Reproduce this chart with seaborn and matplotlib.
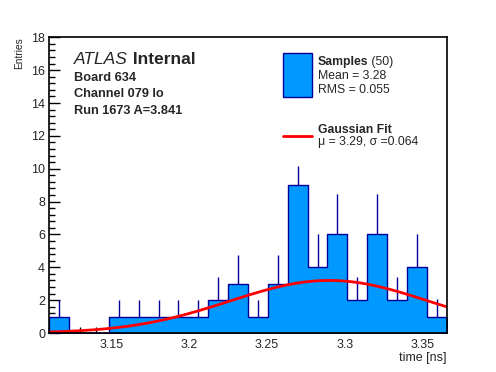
import numpy as np
import pandas as pd
import seaborn as sns
import matplotlib.pyplot as plt
from matplotlib.ticker import MultipleLocator

# histogram: 20 bins between x_lo and x_hi
x_lo, x_hi = 3.110, 3.3656
counts = [1, 0, 0, 1, 1, 1, 1, 1, 2, 3, 1, 3, 9, 4, 6, 2, 6, 2, 4, 1]
errors = [1.0, 0, 0, 1.0, 1.0, 1.0, 1.0, 1.0, 1.41, 1.73, 1.0, 1.76, 1.17, 2.0, 2.45, 1.42, 2.45, 1.42, 2.03, 1.05]

# gaussian fit parameters
fit_mu, fit_sigma, fit_amp = 3.29, 0.064, 3.2

fill_col = "#0099ff"
edge_col = "#000099"

edges = np.linspace(x_lo, x_hi, len(counts) + 1)
centers = 0.5 * (edges[:-1] + edges[1:])
df = pd.DataFrame({"time": centers, "n": counts, "err": errors})

sns.set_style("white")
plt.rcParams["font.family"] = ["Liberation Sans", "DejaVu Sans"]

fig = plt.figure(figsize=(4.96, 3.72), dpi=100)
ax = fig.add_axes([49.3 / 496, 1 - 333 / 372, (446.7 - 49.3) / 496, (333 - 37.3) / 372])

sns.histplot(data=df, x="time", weights="n", bins=list(edges), element="step", fill=True,
             color=fill_col, alpha=1, edgecolor=edge_col, linewidth=1.0, ax=ax)

# error bars (upper part only visible)
nz = df[df["n"] > 0]
ax.vlines(nz["time"], nz["n"], nz["n"] + nz["err"], color=edge_col, linewidth=1.0)

# gaussian fit curve
xs = np.linspace(x_lo, x_hi, 200)
ys = fit_amp * np.exp(-0.5 * ((xs - fit_mu) / fit_sigma) ** 2)
sns.lineplot(x=xs, y=ys, color="red", linewidth=2, ax=ax)

ax.set_xlim(x_lo, x_hi)
ax.set_ylim(0, 18)
ax.set_xticks([3.15, 3.2, 3.25, 3.3, 3.35])
ax.set_xticklabels(["3.15", "3.2", "3.25", "3.3", "3.35"])
ax.xaxis.set_minor_locator(MultipleLocator(0.01))
ax.yaxis.set_major_locator(MultipleLocator(2))
ax.yaxis.set_minor_locator(MultipleLocator(0.4))
ax.tick_params(which="both", direction="in", bottom=True, left=True, top=False, right=False,
               labelsize=9, color="black")
ax.tick_params(which="major", length=8, width=1)
ax.tick_params(which="minor", length=4, width=1)
ax.tick_params(axis="x", pad=4)
ax.tick_params(axis="y", pad=3)
for s in ax.spines.values():
    s.set_color("black")
    s.set_linewidth(1.2)

ax.set_xlabel("time [ns]", fontsize=9, loc="right")
ax.xaxis.set_label_coords(1.0, -0.064)
ax.set_ylabel("")


def px(x, y):
    return x / 496, 1 - y / 372


fig.text(*px(19, 37), "Entries", fontsize=7.3, rotation=90, ha="center", va="top")

# labels in the top-left
t = fig.text(*px(74, 63.5), "ATLAS", fontsize=12.5, style="italic", va="baseline")
ax.annotate(" Internal", xy=(1, 0), xycoords=t, fontsize=12.5, fontweight="bold", va="bottom")
fig.text(*px(74, 80.7), "Board 634", fontsize=9.2, fontweight="bold", va="baseline")
fig.text(*px(74, 97.3), "Channel 079 lo", fontsize=9.2, fontweight="bold", va="baseline")
fig.text(*px(74, 114), "Run 1673 A=3.841", fontsize=9.2, fontweight="bold", va="baseline")

# legend drawn by hand to match the layout
leg_box = plt.Rectangle(px(283, 96.7), 29 / 496, 43.7 / 372, transform=fig.transFigure,
                        facecolor=fill_col, edgecolor=edge_col, linewidth=1)
fig.patches.append(leg_box)
s = fig.text(*px(317.7, 65), "Samples", fontsize=8.8, fontweight="bold", va="baseline")
ax.annotate(" (50)", xy=(1, 0), xycoords=s, fontsize=8.8, va="bottom")
fig.text(*px(317.7, 79.3), "Mean = 3.28", fontsize=8.8, va="baseline")
fig.text(*px(317.7, 93.3), "RMS = 0.055", fontsize=8.8, va="baseline")

fig.lines.append(plt.Line2D([283 / 496, 312 / 496], [1 - 136 / 372] * 2, transform=fig.transFigure,
                            color="red", linewidth=2))
fig.text(*px(317.7, 132.7), "Gaussian Fit", fontsize=8.8, fontweight="bold", va="baseline")
fig.text(*px(317.7, 145), "\u03bc = 3.29, \u03c3 =0.064", fontsize=8.8, va="baseline")

fig.savefig("out.png", dpi=100)
